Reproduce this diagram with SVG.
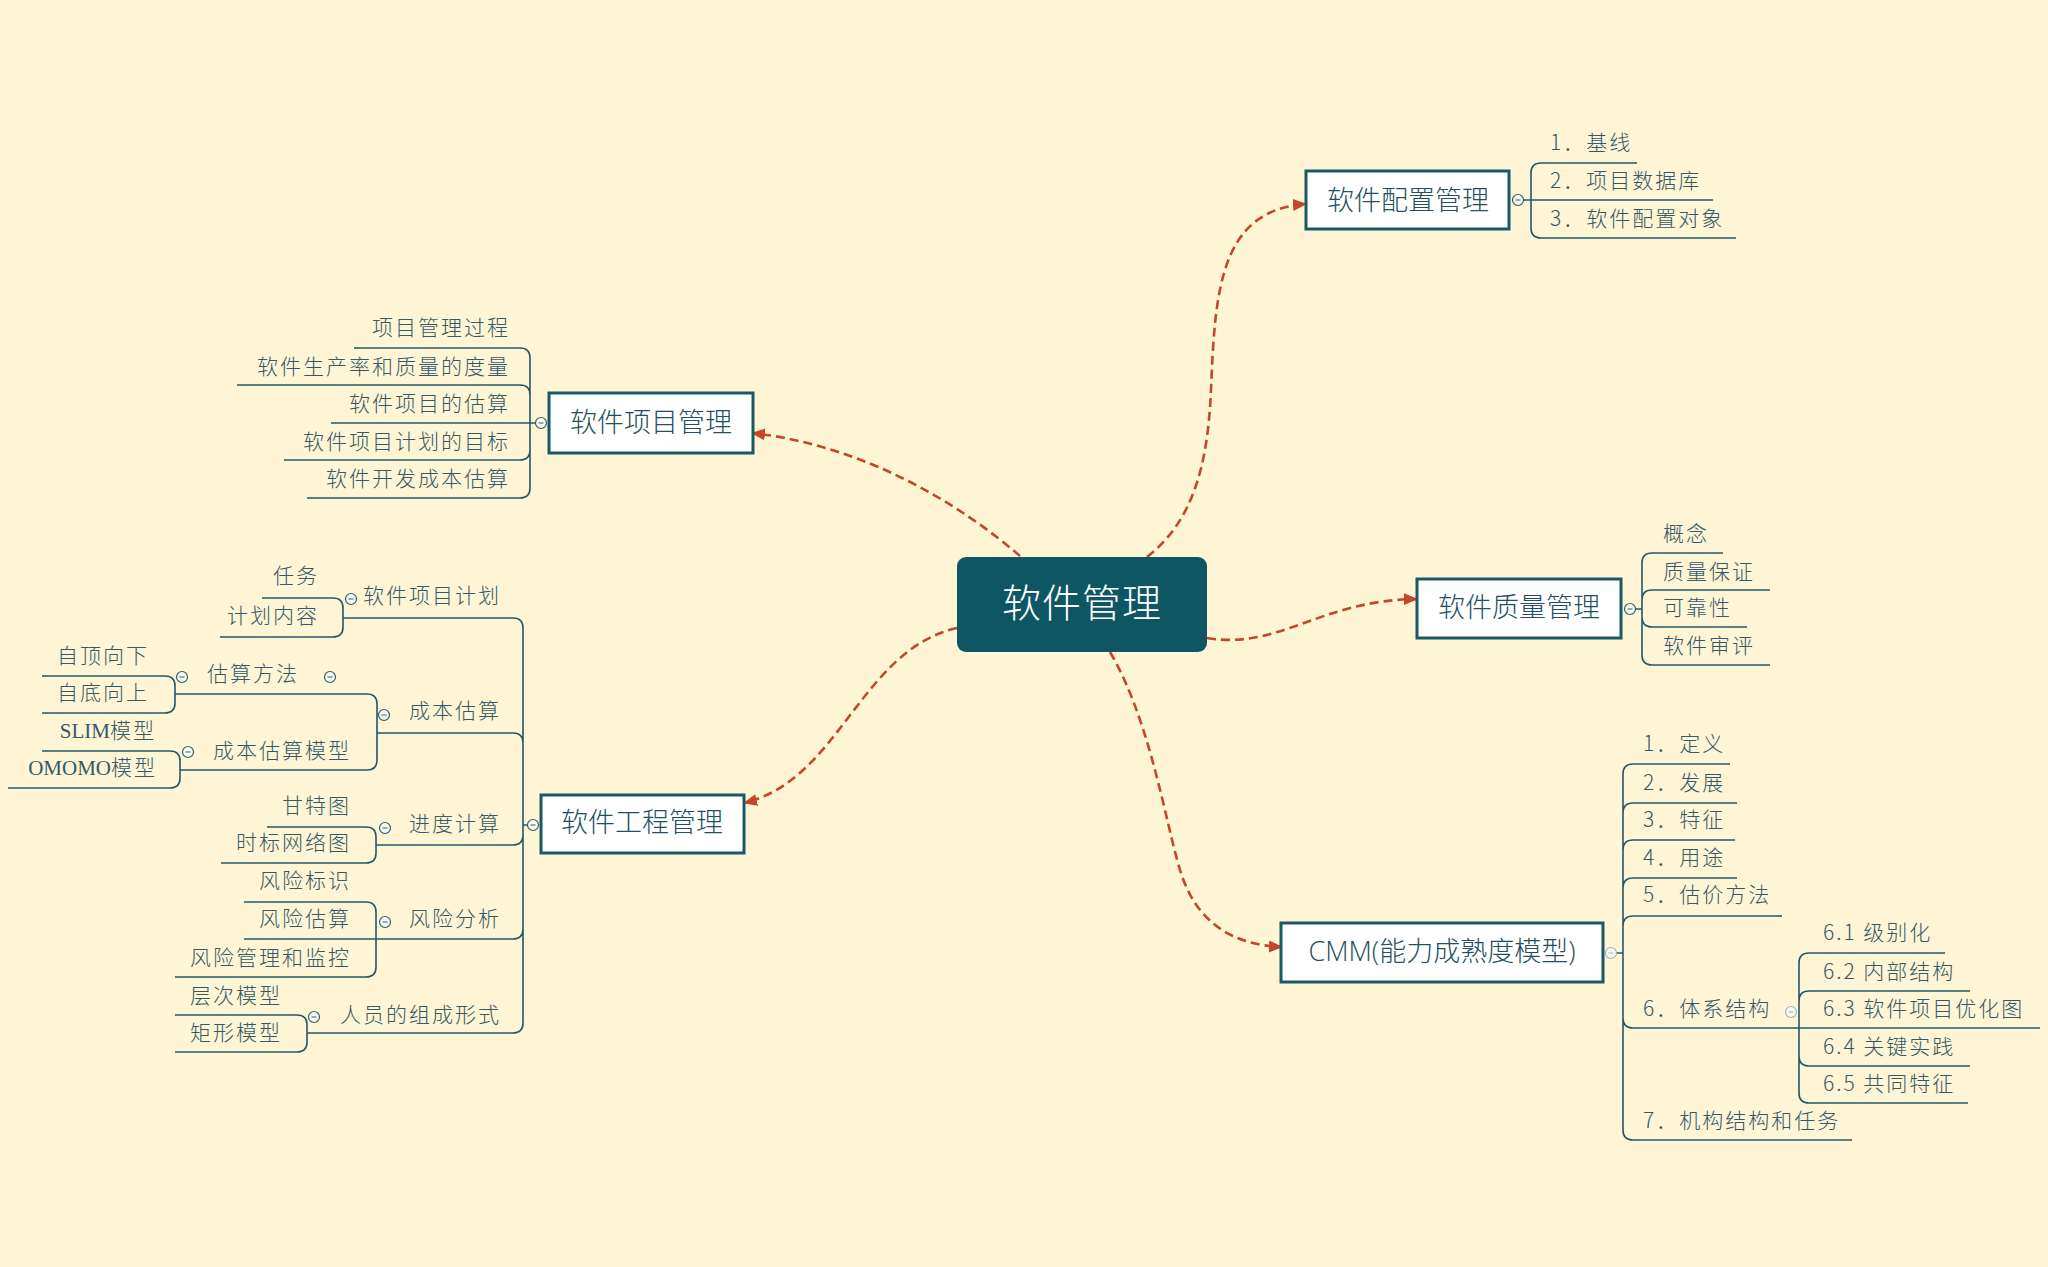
<svg xmlns="http://www.w3.org/2000/svg" xmlns:xlink="http://www.w3.org/1999/xlink" width="2048" height="1267" viewBox="0 0 2048 1267">
<style>
.t{font-family:"Noto Sans CJK SC","Noto Sans",sans-serif;font-size:21px;font-weight:300;letter-spacing:2px;fill:#34596a}
.e{text-anchor:end}
.s{font-family:"Liberation Serif",serif;font-weight:400;letter-spacing:0}
.box{fill:#ffffff;stroke:#1b5866;stroke-width:3}
.bt{font-family:"Noto Sans CJK SC","Noto Sans",sans-serif;font-size:27px;font-weight:300;text-anchor:middle;fill:#244f60}
.ln{fill:none;stroke:#22596a;stroke-width:1.6}
.conn{fill:none;stroke:#c4472b;stroke-width:2.6;stroke-dasharray:9 5}
</style>
<defs>
<marker id="ah" markerWidth="14" markerHeight="12" refX="13" refY="6" orient="auto" markerUnits="userSpaceOnUse">
<path d="M0,0 L14,6 L0,12 Z" fill="#c4472b"/>
</marker>
<g id="col"><circle r="5.5" fill="#fbf8ee" stroke="#2a6070" stroke-width="1.2"/><path d="M-2.5,0 H2.5" stroke="#2a6070" stroke-width="1"/></g>
<g id="colf"><circle r="5.5" fill="#fbf8ee" stroke="#9fb6c2" stroke-width="1.2"/><path d="M-2.5,0 H2.5" stroke="#9fb6c2" stroke-width="1"/></g>
</defs>
<rect x="0" y="0" width="2048" height="1267" fill="#fdf5d3"/>

<g id="connectors">
<path class="conn" d="M1020,556 C955,500 860,445 752,433" marker-end="url(#ah)"/>
<path class="conn" d="M957,628 C860,650 840,780 744,803" marker-end="url(#ah)"/>
<path class="conn" d="M1147,557 C1195,520 1208,460 1211,390 C1215,290 1220,210 1306,204" marker-end="url(#ah)"/>
<path class="conn" d="M1207,638 C1280,650 1320,600 1417,599" marker-end="url(#ah)"/>
<path class="conn" d="M1110,652 C1150,720 1165,820 1180,870 C1195,920 1230,945 1282,947" marker-end="url(#ah)"/>
</g>

<g id="central">
<rect x="957" y="557" width="250" height="95" rx="9" fill="#0e5664"/>
<text x="1082" y="617" font-family="'Noto Sans CJK SC',sans-serif" font-size="39" font-weight="300" letter-spacing="1" text-anchor="middle" fill="#ffffff">软件管理</text>
</g>

<g id="config">
<rect class="box" x="1306" y="171" width="203" height="58"/>
<text class="bt" x="1408" y="210">软件配置管理</text>
<path class="ln" d="M1523,200 H1713 M1531,200 V173 Q1531,163 1541,163 H1637 M1531,200 V228 Q1531,238 1541,238 H1736"/>
<use xlink:href="#col" x="1518" y="200"/>
<text class="t" x="1550" y="150">1．基线</text>
<text class="t" x="1550" y="188">2．项目数据库</text>
<text class="t" x="1550" y="226">3．软件配置对象</text>
</g>

<g id="quality">
<rect class="box" x="1417" y="579" width="204" height="59"/>
<text class="bt" x="1519" y="617">软件质量管理</text>
<path class="ln" d="M1635,609 H1642 M1642,609 V563 Q1642,553 1652,553 H1723 M1642,609 V600 Q1642,590 1652,590 H1770 M1642,609 V617 Q1642,627 1652,627 H1747 M1642,609 V655 Q1642,665 1652,665 H1770"/>
<use xlink:href="#col" x="1630" y="609"/>
<text class="t" x="1663" y="541">概念</text>
<text class="t" x="1663" y="579">质量保证</text>
<text class="t" x="1663" y="615">可靠性</text>
<text class="t" x="1663" y="653">软件审评</text>
</g>

<g id="cmm">
<rect class="box" x="1281" y="923" width="322" height="59"/>
<text class="bt" x="1442" y="961"><tspan font-family="'Open Sans',sans-serif">CMM(</tspan>能力成熟度模型<tspan font-family="'Open Sans',sans-serif">)</tspan></text>
<path class="ln" d="M1616,953 H1623
M1623,953 V774 Q1623,764 1633,764 H1730
M1623,953 V813 Q1623,803 1633,803 H1737
M1623,953 V850 Q1623,840 1633,840 H1735
M1623,953 V888 Q1623,878 1633,878 H1737
M1623,953 V926 Q1623,916 1633,916 H1782
M1623,953 V1018 Q1623,1028 1633,1028 H1799
M1623,953 V1130 Q1623,1140 1633,1140 H1852"/>
<use xlink:href="#colf" x="1611" y="953"/>
<text class="t" x="1643" y="751">1．定义</text>
<text class="t" x="1643" y="790">2．发展</text>
<text class="t" x="1643" y="827">3．特征</text>
<text class="t" x="1643" y="865">4．用途</text>
<text class="t" x="1643" y="902">5．估价方法</text>
<text class="t" x="1643" y="1016">6．体系结构</text>
<text class="t" x="1643" y="1128">7．机构结构和任务</text>
</g>

<g id="cmm-6">
<path class="ln" d="M1799,1028 H2040
M1799,1028 V963 Q1799,953 1809,953 H1945
M1799,1028 V1001 Q1799,991 1809,991 H1970
M1799,1028 V1056 Q1799,1066 1809,1066 H1970
M1799,1028 V1093 Q1799,1103 1809,1103 H1968"/>
<use xlink:href="#colf" x="1791" y="1012"/>
<text class="t" x="1823" y="940">6.1 级别化</text>
<text class="t" x="1823" y="979">6.2 内部结构</text>
<text class="t" x="1823" y="1016">6.3 软件项目优化图</text>
<text class="t" x="1823" y="1054">6.4 关键实践</text>
<text class="t" x="1823" y="1091">6.5 共同特征</text>
</g>

<g id="project">
<rect class="box" x="549" y="393" width="204" height="60"/>
<text class="bt" x="651" y="432">软件项目管理</text>
<path class="ln" d="M536,423 H331
M530,423 V358 Q530,348 520,348 H354
M530,423 V395 Q530,385 520,385 H237
M530,423 V450 Q530,460 520,460 H284
M530,423 V488 Q530,498 520,498 H307"/>
<use xlink:href="#col" x="541" y="423"/>
<text class="t e" x="510" y="335">项目管理过程</text>
<text class="t e" x="510" y="374">软件生产率和质量的度量</text>
<text class="t e" x="510" y="411">软件项目的估算</text>
<text class="t e" x="510" y="449">软件项目计划的目标</text>
<text class="t e" x="510" y="486">软件开发成本估算</text>
</g>

<g id="engineering">
<rect class="box" x="541" y="795" width="203" height="58"/>
<text class="bt" x="642" y="832">软件工程管理</text>
<path class="ln" d="M528,825 H523
M523,825 V628 Q523,618 513,618 H343
M523,825 V743 Q523,733 513,733 H377
M523,825 V835 Q523,845 513,845 H376
M523,825 V929 Q523,939 513,939 H376
M523,825 V1023 Q523,1033 513,1033 H307"/>
<use xlink:href="#col" x="533" y="825"/>
<text class="t e" x="501" y="603">软件项目计划</text>
<text class="t e" x="501" y="718">成本估算</text>
<text class="t e" x="501" y="831">进度计算</text>
<text class="t e" x="501" y="926">风险分析</text>
<text class="t e" x="501" y="1022">人员的组成形式</text>
</g>

<g id="plan">
<path class="ln" d="M343,618 V608 Q343,598 333,598 H262 M343,618 V627 Q343,637 333,637 H220"/>
<use xlink:href="#col" x="351" y="599"/>
<text class="t e" x="319" y="583">任务</text>
<text class="t e" x="319" y="623">计划内容</text>
</g>

<g id="cost">
<path class="ln" d="M377,733 V704 Q377,694 367,694 H175 M377,733 V760 Q377,770 367,770 H180"/>
<use xlink:href="#col" x="384" y="715"/>
<text class="t e" x="299" y="681">估算方法</text>
<use xlink:href="#col" x="330" y="677"/>
<text class="t e" x="351" y="758">成本估算模型</text>
</g>

<g id="cost-method">
<path class="ln" d="M175,694 V686 Q175,676 165,676 H42 M175,694 V703 Q175,713 165,713 H42"/>
<use xlink:href="#col" x="182" y="677"/>
<text class="t e" x="149" y="663">自顶向下</text>
<text class="t e" x="149" y="700">自底向上</text>
</g>

<g id="cost-model">
<path class="ln" d="M180,770 V761 Q180,751 170,751 H42 M180,770 V778 Q180,788 170,788 H8"/>
<use xlink:href="#col" x="188" y="752"/>
<text class="t e" x="156" y="738"><tspan class="s">SLIM</tspan>模型</text>
<text class="t e" x="157" y="775"><tspan class="s">OMOMO</tspan>模型</text>
</g>

<g id="schedule">
<path class="ln" d="M376,845 V837 Q376,827 366,827 H267 M376,845 V853 Q376,863 366,863 H221"/>
<use xlink:href="#col" x="385" y="828"/>
<text class="t e" x="351" y="813">甘特图</text>
<text class="t e" x="351" y="850">时标网络图</text>
</g>

<g id="risk">
<path class="ln" d="M376,939 H244 M376,939 V912 Q376,902 366,902 H244 M376,939 V967 Q376,977 366,977 H175"/>
<use xlink:href="#col" x="385" y="922"/>
<text class="t e" x="351" y="888">风险标识</text>
<text class="t e" x="351" y="926">风险估算</text>
<text class="t e" x="351" y="965">风险管理和监控</text>
</g>

<g id="staff">
<path class="ln" d="M307,1033 V1025 Q307,1015 297,1015 H175 M307,1033 V1042 Q307,1052 297,1052 H175"/>
<use xlink:href="#col" x="314" y="1017"/>
<text class="t e" x="282" y="1003">层次模型</text>
<text class="t e" x="282" y="1040">矩形模型</text>
</g>
</svg>
